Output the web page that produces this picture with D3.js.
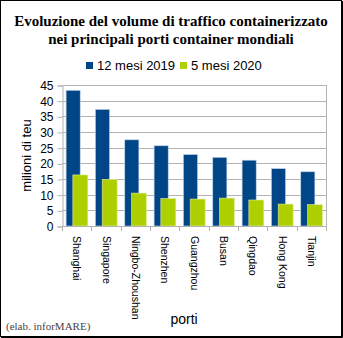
<!DOCTYPE html>
<html>
<head>
<meta charset="utf-8">
<script src="https://cdn.jsdelivr.net/npm/d3@7"></script>
<style>
  body { margin: 0; background: #fff; }
  svg { display: block; }
</style>
</head>
<body>
<div id="graph"></div>
<script>
// data
var ports = ["Shanghai", "Singapore", "Ningbo-Zhoushan", "Shenzhen", "Guangzhou",
             "Busan", "Qingdao", "Hong Kong", "Tianjin"];
var year2019 = [43.3, 37.2, 27.5, 25.6, 22.8, 21.9, 21.0, 18.3, 17.3];
var months2020 = [16.3, 14.9, 10.5, 8.8, 8.6, 8.9, 8.3, 7.0, 6.8];
var seriesNames = ["12 mesi 2019", "5 mesi 2020"];
var seriesColors = ["#004586", "#aecf00"];
var yTicks = [0, 5, 10, 15, 20, 25, 30, 35, 40, 45];

//measurements
var width = 343;
var height = 338;
var margin = { top: 85, right: 17, bottom: 112, left: 62 };
var chartWidth = width - margin.left - margin.right;
var chartHeight = height - margin.top - margin.bottom;

var chart = d3.select("#graph").append("svg")
    .attr("width", width)
    .attr("height", height);

// frame with a small shadow on the right and bottom
chart.append("rect")
    .attr("x", 0.5).attr("y", 0.5)
    .attr("width", width - 2).attr("height", height - 2)
    .style("fill", "#fff")
    .style("stroke", "#000");
chart.append("path")
    .attr("d", "M" + (width - 0.5) + ",1V" + (height - 0.5) + "H1")
    .style("fill", "none")
    .style("stroke", "#000");

// title
var title = chart.append("text")
    .attr("text-anchor", "middle")
    .style("font-family", "'Liberation Serif', 'Times New Roman', serif")
    .style("font-weight", "bold")
    .style("font-size", "15px")
    .style("fill", "#000");
title.append("tspan").attr("x", 171).attr("y", 26).text("Evoluzione del volume di traffico containerizzato");
title.append("tspan").attr("x", 171).attr("y", 44).text("nei principali porti container mondiali");

// legend
var legendX = [86, 180];
seriesNames.forEach(function (name, i) {
    chart.append("rect")
        .attr("x", legendX[i]).attr("y", 62)
        .attr("width", 7).attr("height", 7)
        .style("fill", seriesColors[i]);
    chart.append("text")
        .attr("x", legendX[i] + 11).attr("y", 70)
        .style("font-family", "'Liberation Sans', Arial, sans-serif")
        .style("font-size", "13px")
        .style("fill", "#000")
        .text(name);
});

// scales
chart.xScale = d3.scaleBand()
    .domain(ports)
    .range([0, chartWidth]);

chart.yScale = d3.scaleLinear()
    .domain([0, 45])
    .range([chartHeight, 0]);

chart.plotArea = chart.append("g")
    .attr("transform", "translate(" + margin.left + "," + margin.top + ")");

// grid lines
chart.plotArea.selectAll(".grid")
    .data(yTicks)
    .enter().append("line")
    .attr("x1", 0).attr("x2", chartWidth)
    .attr("y1", function (d) { return Math.round(chart.yScale(d)) + 0.5; })
    .attr("y2", function (d) { return Math.round(chart.yScale(d)) + 0.5; })
    .style("stroke", "#b3b3b3");

chart.plotArea.append("line")
    .attr("x1", chartWidth + 0.5).attr("x2", chartWidth + 0.5)
    .attr("y1", 0).attr("y2", chartHeight)
    .style("stroke", "#b3b3b3");

// bars
var bw = chart.xScale.bandwidth();
var groups = chart.plotArea.selectAll(".port")
    .data(ports)
    .enter().append("g")
    .attr("transform", function (d) { return "translate(" + chart.xScale(d) + ",0)"; });

groups.append("rect")
    .attr("x", bw * 0.14)
    .attr("width", bw * 0.48)
    .attr("y", function (d, i) { return chart.yScale(year2019[i]); })
    .attr("height", function (d, i) { return chartHeight - chart.yScale(year2019[i]); })
    .style("fill", seriesColors[0])
    .style("stroke", "#bcd0e6")
    .style("stroke-width", 0.6);

groups.append("rect")
    .attr("x", bw * 0.37)
    .attr("width", bw * 0.51)
    .attr("y", function (d, i) { return chart.yScale(months2020[i]); })
    .attr("height", function (d, i) { return chartHeight - chart.yScale(months2020[i]); })
    .style("fill", seriesColors[1])
    .style("stroke", "#e2eea0")
    .style("stroke-width", 0.6);

// y axis
chart.yAxis = d3.axisLeft(chart.yScale)
    .tickValues(yTicks)
    .tickSize(5)
    .tickPadding(4);

chart.yAxisContainer = chart.append("g")
    .attr("transform", "translate(" + (margin.left + 0.5) + "," + (margin.top + 0.5) + ")")
    .call(chart.yAxis);

// x axis: ticks sit on the category boundaries
var xBounds = d3.range(ports.length + 1).map(function (i) { return i * bw; });
chart.xAxisG = chart.append("g")
    .attr("transform", "translate(" + margin.left + "," + (margin.top + chartHeight) + ")");
chart.xAxisG.append("line")
    .attr("x1", 0).attr("x2", chartWidth)
    .attr("y1", 0.5).attr("y2", 0.5)
    .style("stroke", "#b3b3b3");
chart.xAxisG.selectAll(".xtick")
    .data(xBounds)
    .enter().append("line")
    .attr("x1", function (d) { return Math.round(d) + 0.5; })
    .attr("x2", function (d) { return Math.round(d) + 0.5; })
    .attr("y1", 0).attr("y2", 5)
    .style("stroke", "#b3b3b3");
chart.xAxisG.selectAll(".xlabel")
    .data(ports)
    .enter().append("text")
    .attr("transform", function (d) {
        return "translate(" + (chart.xScale(d) + bw / 2 - 3.5) + ",10) rotate(90)";
    })
    .style("font-family", "'Liberation Sans', Arial, sans-serif")
    .style("font-size", "10.5px")
    .style("fill", "#000")
    .text(function (d) { return d; });

chart.selectAll(".domain").style("stroke", "#b3b3b3");
chart.selectAll(".tick line").style("stroke", "#b3b3b3");
chart.selectAll(".tick text")
    .style("font-family", "'Liberation Sans', Arial, sans-serif")
    .style("font-size", "12px")
    .style("fill", "#000");

// axis header labels
chart.append("text")
    .attr("text-anchor", "middle")
    .attr("transform", "translate(184,324)")
    .style("font-family", "'Liberation Sans', Arial, sans-serif")
    .style("font-size", "14px")
    .text("porti");

chart.append("text")
    .attr("text-anchor", "middle")
    .attr("transform", "translate(31," + (margin.top + chartHeight / 2) + ") rotate(-90)")
    .style("font-family", "'Liberation Sans', Arial, sans-serif")
    .style("font-size", "13px")
    .text("milioni di teu");

// source note
chart.append("text")
    .attr("x", 6).attr("y", 330)
    .style("font-family", "'Liberation Serif', 'Times New Roman', serif")
    .style("font-size", "11px")
    .style("fill", "#444")
    .text("(elab. inforMARE)");
</script>
</body>
</html>
